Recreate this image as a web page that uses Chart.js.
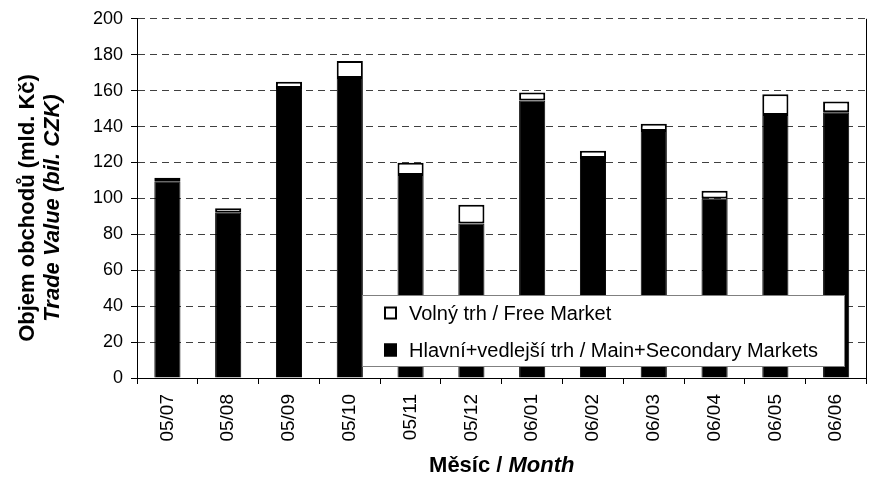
<!DOCTYPE html>
<html>
<head>
<meta charset="utf-8">
<script src="https://cdn.jsdelivr.net/npm/chart.js@4.4.1/dist/chart.umd.min.js"></script>
<style>
html,body{margin:0;padding:0;background:#fff;}
canvas{display:block;}
</style>
</head>
<body>
<canvas id="c" width="869" height="477"></canvas>
<script>
const categories = ['05/07','05/08','05/09','05/10','05/11','05/12','06/01','06/02','06/03','06/04','06/05','06/06'];
const mainMarkets = [109.5, 92, 161.5, 167, 113, 86, 154.5, 122.5, 137.5, 100, 146.5, 148];
const freeMarket = [2, 2.5, 3.5, 9.5, 6.8, 10.5, 4.5, 4, 4, 4.3, 11.5, 6];
const freeLabel = 'Volný trh / Free Market';
const mainLabel = 'Hlavní+vedlejší trh / Main+Secondary Markets';
const yTitle1 = 'Objem obchodů (mld. Kč)';
const yTitle2 = 'Trade Value (bil. CZK)';
const xTitleA = 'Měsíc / ';
const xTitleB = 'Month';

const FONT = '"Liberation Sans", Arial, sans-serif';

const decor = {
  id: 'decor',
  afterDatasetsDraw(chart) {
    const ctx = chart.ctx;
    const a = chart.chartArea;
    ctx.save();
    ctx.setLineDash([]);
    // axis lines and right border
    ctx.strokeStyle = '#000';
    ctx.lineWidth = 1;
    ctx.beginPath();
    ctx.moveTo(Math.round(a.right) - 0.5, a.top);
    ctx.lineTo(Math.round(a.right) - 0.5, a.bottom);
    ctx.moveTo(Math.round(a.left) + 0.5, a.top);
    ctx.lineTo(Math.round(a.left) + 0.5, a.bottom);
    ctx.stroke();
    // legend box
    const lx = 362, ly = 295, lw = 482, lh = 71;
    ctx.fillStyle = '#fff';
    ctx.fillRect(lx, ly, lw, lh);
    ctx.strokeStyle = '#808080';
    ctx.strokeRect(lx + 0.5, ly + 0.5, lw, lh);
    const items = [
      {label: freeLabel, fill: '#fff'},
      {label: mainLabel, fill: '#000'}
    ];
    const rows = [313, 350];
    ctx.font = '20px ' + FONT;
    ctx.textBaseline = 'middle';
    items.forEach((it, i) => {
      const y = rows[i];
      ctx.fillStyle = it.fill;
      ctx.fillRect(384, y - 6.5, 13, 13);
      ctx.strokeStyle = '#000';
      ctx.lineWidth = 2;
      ctx.strokeRect(385, y - 5.5, 11, 11);
      ctx.fillStyle = '#000';
      ctx.fillText(it.label, 409, y + 1);
    });
    ctx.restore();
  },
  afterDraw(chart) {
    const ctx = chart.ctx;
    ctx.save();
    ctx.fillStyle = '#000';
    ctx.textBaseline = 'middle';
    ctx.textAlign = 'center';
    // y title
    ctx.translate(28, 208);
    ctx.rotate(-Math.PI / 2);
    ctx.font = 'bold 22px ' + FONT;
    ctx.fillText(yTitle1, 0, 0);
    ctx.font = 'italic bold 22px ' + FONT;
    ctx.fillText(yTitle2, 0, 25);
    ctx.restore();
    // x title
    ctx.save();
    ctx.fillStyle = '#000';
    ctx.textBaseline = 'middle';
    ctx.textAlign = 'left';
    ctx.font = 'bold 22px ' + FONT;
    const wa = ctx.measureText(xTitleA).width;
    ctx.font = 'italic bold 22px ' + FONT;
    const wb = ctx.measureText(xTitleB).width;
    const a = chart.chartArea;
    const cx = (a.left + a.right) / 2;
    const x0 = cx - (wa + wb) / 2;
    ctx.font = 'bold 22px ' + FONT;
    ctx.fillText(xTitleA, x0, 466);
    ctx.font = 'italic bold 22px ' + FONT;
    ctx.fillText(xTitleB, x0 + wa, 466);
    ctx.restore();
  }
};

new Chart(document.getElementById('c'), {
  type: 'bar',
  data: {
    labels: categories,
    datasets: [
      {
        label: mainLabel,
        data: mainMarkets,
        backgroundColor: '#000',
        borderColor: '#000',
        borderWidth: 1,
        barPercentage: 0.43,
        categoryPercentage: 1
      },
      {
        label: freeLabel,
        data: freeMarket,
        backgroundColor: '#fff',
        borderColor: '#000',
        borderWidth: 2,
        borderSkipped: false,
        barPercentage: 0.43,
        categoryPercentage: 1
      }
    ]
  },
  options: {
    responsive: false,
    animation: false,
    devicePixelRatio: 1,
    layout: {autoPadding: false, padding: {top: 14, right: 1, left: 0, bottom: 0}},
    plugins: {legend: {display: false}, tooltip: {enabled: false}},
    scales: {
      x: {
        stacked: true,
        grid: {offset: true, drawOnChartArea: false, tickLength: 6, color: '#000'},
        border: {display: true, color: '#000', width: 1},
        ticks: {color: '#000', font: {family: FONT, size: 19}, minRotation: 90, maxRotation: 90, padding: 10, autoSkip: false},
        afterFit(s) { s.height = 99; }
      },
      y: {
        stacked: true,
        min: 0, max: 200,
        ticks: {stepSize: 20, color: '#000', font: {family: FONT, size: 18}, padding: 8},
        grid: {color: '#404040', tickLength: 6, tickColor: '#000', tickBorderDash: [1, 0]},
        border: {display: true, color: '#000', width: 1, dash: [7, 5]},
        afterFit(s) { s.width = 137; }
      }
    }
  },
  plugins: [decor]
});
</script>
</body>
</html>
